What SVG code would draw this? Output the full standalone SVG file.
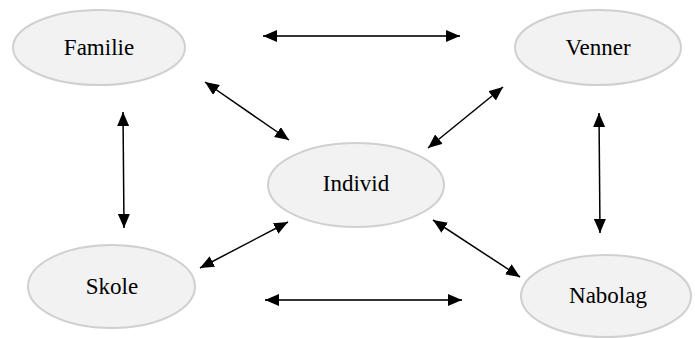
<svg xmlns="http://www.w3.org/2000/svg" width="695" height="338" viewBox="0 0 695 338">
<style>
.node ellipse{fill:#f2f2f2;stroke:#d0d0d0;stroke-width:2}
.node text{font-family:"Liberation Serif","Times New Roman",serif;font-size:23px;fill:#000;text-anchor:middle}
.edges line{stroke:#000;stroke-width:1.5;marker-start:url(#ah);marker-end:url(#ah)}
.edges line.h{stroke:#333;stroke-width:2.2}
</style>
<defs>
<marker id="ah" viewBox="0 0 14 12" refX="14" refY="6" markerWidth="14" markerHeight="12" markerUnits="userSpaceOnUse" orient="auto-start-reverse">
<path d="M0,0 L14,6 L0,12 z" fill="#000"/>
</marker>
</defs>
<rect width="695" height="338" fill="#fff"/>
<g id="familie" class="node"><ellipse cx="99" cy="47.5" rx="86" ry="37.5"/><text x="99" y="55">Familie</text></g>
<g id="venner" class="node"><ellipse cx="598" cy="47.5" rx="83" ry="37.5"/><text x="598" y="55">Venner</text></g>
<g id="individ" class="node"><ellipse cx="356" cy="185" rx="88" ry="42"/><text x="356" y="191">Individ</text></g>
<g id="skole" class="node"><ellipse cx="111.5" cy="286.5" rx="83.5" ry="41.5"/><text x="112" y="294">Skole</text></g>
<g id="nabolag" class="node"><ellipse cx="606" cy="296" rx="85" ry="41"/><text x="608" y="303">Nabolag</text></g>
<g id="connectors" class="edges">
<line class="h" x1="263" y1="36" x2="460" y2="36"/>
<line class="h" x1="265" y1="300" x2="462" y2="300"/>
<line x1="205" y1="82" x2="289" y2="140"/>
<line x1="428" y1="148" x2="503" y2="87"/>
<line x1="123" y1="112" x2="124" y2="228"/>
<line x1="599" y1="113" x2="600" y2="233"/>
<line x1="200" y1="268" x2="288" y2="222"/>
<line x1="433" y1="220" x2="520" y2="277"/>
</g>
</svg>
